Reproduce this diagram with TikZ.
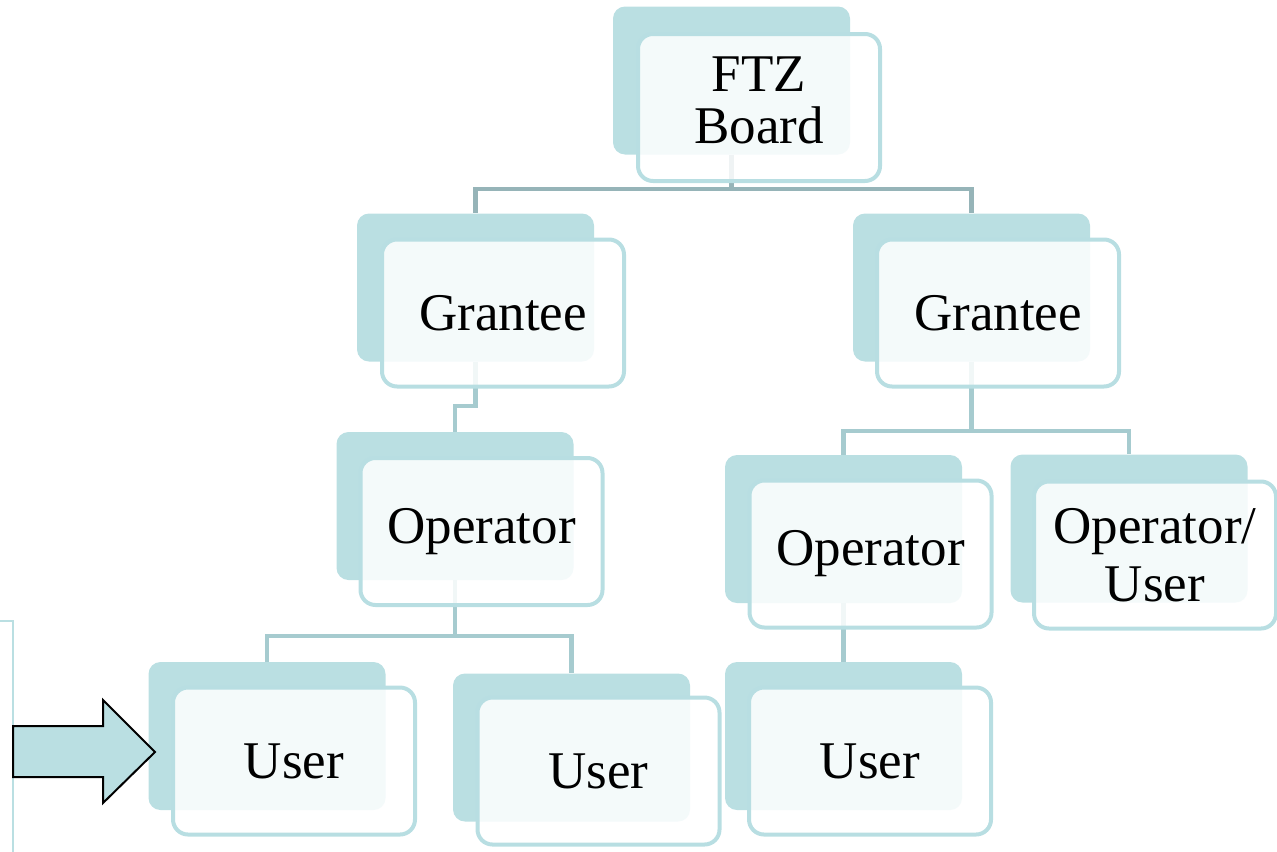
\documentclass[tikz,border=0pt]{standalone}
\usepackage{fontspec}
\setmainfont{Liberation Serif}
\definecolor{backteal}{RGB}{186,223,226}
\definecolor{borderteal}{RGB}{184,222,226}
\definecolor{connA}{RGB}{150,180,184}
\definecolor{connB}{RGB}{166,203,207}
\tikzset{
  backbox/.style={fill=backteal, draw=none, rounded corners=6pt, minimum width=118.5pt, minimum height=74pt, inner sep=0pt},
  frontbox/.style={draw=borderteal, line width=2pt, fill=white, fill opacity=0.85, text opacity=1, rounded corners=7.5pt, minimum width=121pt, minimum height=73.5pt, inner sep=0pt, align=center, font=\fontsize{26.5pt}{25pt}\selectfont},
  connhi/.style={draw=connA, line width=2.4pt},
  connlo/.style={draw=connB, line width=2.2pt},
  blockarrow/.style={fill=backteal, draw=black, line width=1pt},
  sideframe/.style={draw=backteal, line width=1pt}
}
\begin{document}
\begin{tikzpicture}[x=0.5pt,y=-0.5pt]
\useasboundingbox (0,0) rectangle (1277,851);
% back boxes
\node[backbox] (ftzb) at (731.5,80.5) {};
\node[backbox] (glb) at (475.5,287.5) {};
\node[backbox] (grb) at (971.5,287.5) {};
\node[backbox] (olb) at (455,506) {};
\node[backbox] (orb) at (843.5,529) {};
\node[backbox] (oub) at (1129,528.5) {};
\node[backbox] (u1b) at (267,736) {};
\node[backbox] (u2b) at (571.5,747.5) {};
\node[backbox] (u3b) at (843.5,736) {};
% connectors
\draw[connhi] (ftzb.south) -- (ftzb.south |- 0,189) -| (glb.north);
\draw[connhi] (ftzb.south |- 0,189) -| (grb.north);
\draw[connlo] (glb.south) -- (glb.south |- 0,406) -| (olb.north);
\draw[connlo] (grb.south) -- (grb.south |- 0,431) -| (orb.north);
\draw[connlo] (grb.south |- 0,431) -| (oub.north);
\draw[connlo] (olb.south) -- (olb.south |- 0,636) -| (u1b.north);
\draw[connlo] (olb.south |- 0,636) -| (u2b.north);
\draw[connlo] (orb.south) -- (u3b.north);
% front boxes
\node[frontbox] (ftz) at (759,107.5) {\raisebox{2pt}{\begin{tabular}{@{}c@{}}FTZ\\Board\end{tabular}}};
\node[frontbox] (gl) at (503,313) {Grantee};
\node[frontbox] (gr) at (998,313) {Grantee};
\node[frontbox] (ol) at (481.5,531.5) {Operator};
\node[frontbox] (or) at (870.5,554) {Operator};
\node[frontbox] (ou) at (1155,555) {Operator/\\[4pt]User};
\node[frontbox] (u1) at (294,761) {User};
\node[frontbox] (u2) at (598.5,771) {User};
\node[frontbox] (u3) at (870,761) {User};
% left frame and arrow
\draw[sideframe] (0,621) -- (13,621) -- (13,860);
\draw[blockarrow] (13,726) -- (103,726) -- (103,700) -- (155,752) -- (103,803) -- (103,777) -- (13,777) -- cycle;
\end{tikzpicture}
\end{document}
